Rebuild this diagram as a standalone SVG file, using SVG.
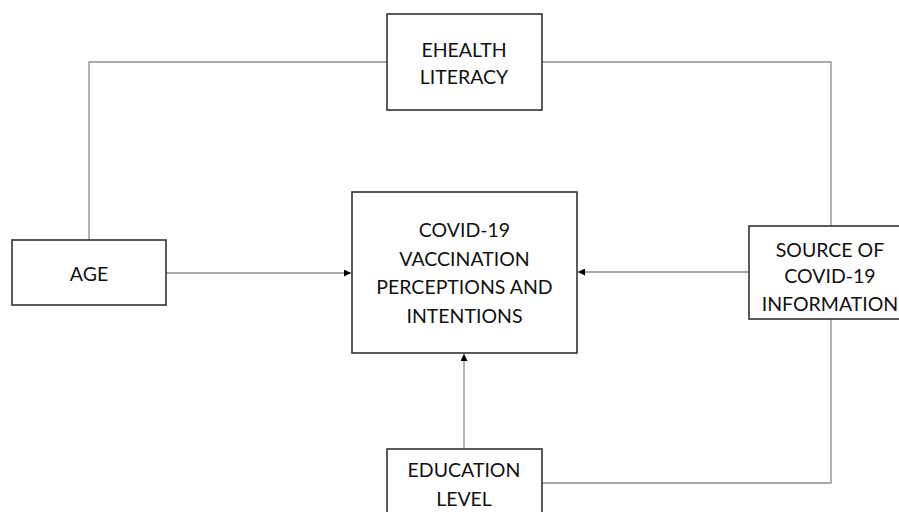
<svg xmlns="http://www.w3.org/2000/svg" width="899" height="512" viewBox="0 0 899 512">
<style>
.box{fill:#fff;stroke:#333;stroke-width:1.6}
.lbl{font-family:Lato,"Open Sans",sans-serif;font-size:19.5px;fill:#111;text-anchor:middle}
.con{fill:none;stroke:#8c8c8c;stroke-width:1.3}
</style>
<defs>
<marker id="ah" viewBox="0 0 10 10" refX="10" refY="5" markerWidth="7" markerHeight="7" orient="auto" markerUnits="userSpaceOnUse">
<path d="M0,0 L10,5 L0,10 Z" fill="#000"/>
</marker>
</defs>
<rect width="899" height="512" fill="#fff"/>
<g id="connectors">
<polyline class="con" points="89,240 89,62 387,62"/>
<polyline class="con" points="542,62 831,62 831,226"/>
<polyline class="con" points="831,319 831,483 542,483"/>
<line class="con" x1="166" y1="273" x2="351" y2="273" marker-end="url(#ah)"/>
<line class="con" x1="749" y1="272" x2="578" y2="272" marker-end="url(#ah)"/>
<line class="con" x1="464" y1="449" x2="464" y2="354" marker-end="url(#ah)"/>
</g>
<g id="ehealth">
<rect class="box" x="387" y="14" width="155" height="96"/>
<text class="lbl" x="464" y="57">EHEALTH</text>
<text class="lbl" x="464" y="84">LITERACY</text>
</g>
<g id="age">
<rect class="box" x="12" y="240" width="154" height="65"/>
<text class="lbl" x="89" y="281">AGE</text>
</g>
<g id="outcome">
<rect class="box" x="352" y="192" width="225" height="161"/>
<text class="lbl" x="464.5" y="237">COVID-19</text>
<text class="lbl" x="464.5" y="266">VACCINATION</text>
<text class="lbl" x="464.5" y="294">PERCEPTIONS AND</text>
<text class="lbl" x="464.5" y="323">INTENTIONS</text>
</g>
<g id="source">
<rect class="box" x="749" y="226" width="160" height="93"/>
<text class="lbl" x="830" y="257">SOURCE OF</text>
<text class="lbl" x="830" y="283">COVID-19</text>
<text class="lbl" x="830" y="311">INFORMATION</text>
</g>
<g id="education">
<rect class="box" x="387" y="449" width="155" height="80"/>
<text class="lbl" x="464" y="477">EDUCATION</text>
<text class="lbl" x="464" y="506">LEVEL</text>
</g>
</svg>
